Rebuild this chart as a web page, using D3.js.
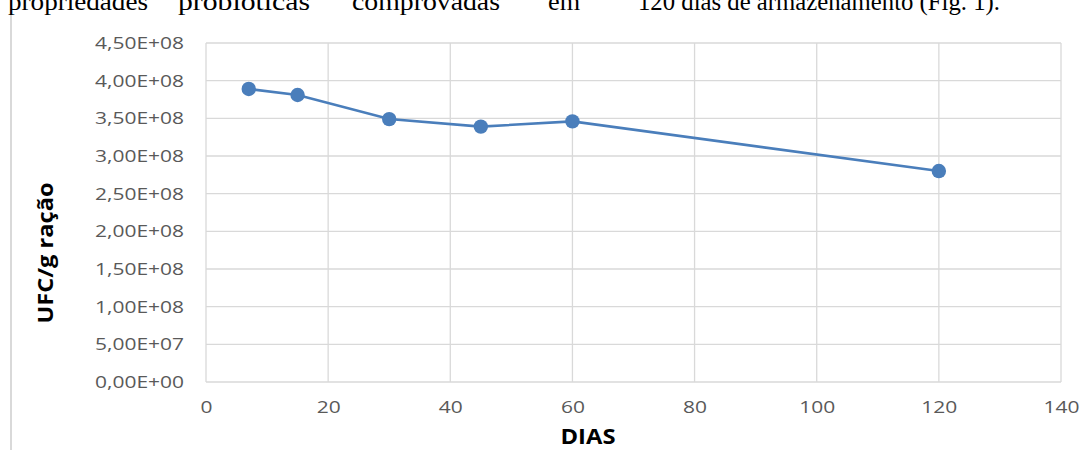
<!DOCTYPE html>
<html>
<head>
<meta charset="utf-8">
<script src="https://cdn.jsdelivr.net/npm/d3@7"></script>
<style>
  html, body { margin: 0; padding: 0; background: #fff; }
  svg { display: block; }
</style>
</head>
<body>
<svg id="chart" width="1081" height="450"></svg>
<script>
const dias = [7, 15, 30, 45, 60, 120];
const ufc = [3.89e8, 3.81e8, 3.49e8, 3.39e8, 3.46e8, 2.80e8];
const xTicks = [0, 20, 40, 60, 80, 100, 120, 140];
const yTicks = [0, 0.5e8, 1.0e8, 1.5e8, 2.0e8, 2.5e8, 3.0e8, 3.5e8, 4.0e8, 4.5e8];
const yTickLabels = ["0,00E+00", "5,00E+07", "1,00E+08", "1,50E+08", "2,00E+08", "2,50E+08", "3,00E+08", "3,50E+08", "4,00E+08", "4,50E+08"];
const xTitle = "DIAS";
const yTitle = "UFC/g ração";
const topText = ["propriedades", "probióticas", "comprovadas", "em", "120 dias de armazenamento (Fig. 1)."];

const svg = d3.select("#chart");
const W = 1081, H = 450;

// Top clipped paragraph text (continuation of the page above the figure)
const topX = [8, 178, 352, 548, 638];
const topLen = [140, 132, 148, 32, 362];
svg.append("g").selectAll("text").data(topText).join("text")
  .attr("x", (d, i) => topX[i])
  .attr("y", 10)
  .attr("font-family", "Liberation Serif, Times New Roman, serif")
  .attr("font-size", 26)
  .attr("textLength", (d, i) => topLen[i])
  .attr("lengthAdjust", "spacingAndGlyphs")
  .attr("fill", "#000")
  .text(d => d);

// left frame line
svg.append("line").attr("x1", 11).attr("x2", 11).attr("y1", 15).attr("y2", H)
  .attr("stroke", "#d9d9d9").attr("stroke-width", 2);

const x = d3.scaleLinear().domain([0, 140]).range([206, 1061]);
const y = d3.scaleLinear().domain([0, 4.5e8]).range([382, 43]);

// gridlines
svg.append("g").selectAll("line.h").data(yTicks).join("line")
  .attr("x1", x(0)).attr("x2", x(140))
  .attr("y1", d => y(d)).attr("y2", d => y(d))
  .attr("stroke", "#d9d9d9").attr("stroke-width", 1.3);
svg.append("g").selectAll("line.v").data(xTicks).join("line")
  .attr("x1", d => x(d)).attr("x2", d => x(d))
  .attr("y1", y(0)).attr("y2", y(4.5e8))
  .attr("stroke", "#d9d9d9").attr("stroke-width", 1.3);

// axes (labels only)
const yAxis = d3.axisLeft(y).tickValues(yTicks)
  .tickFormat((d, i) => yTickLabels[i]).tickSize(0).tickPadding(22);
const gy = svg.append("g").attr("transform", `translate(${x(0)},0)`).call(yAxis);
gy.select(".domain").remove();
gy.selectAll("text").attr("font-family", "Open Sans, sans-serif").attr("font-size", 17)
  .attr("fill", "#595959").attr("textLength", 89).attr("lengthAdjust", "spacingAndGlyphs");

const xAxis = d3.axisBottom(x).tickValues(xTicks).tickSize(0).tickPadding(19);
const gx = svg.append("g").attr("transform", `translate(0,${y(0)})`).call(xAxis);
gx.select(".domain").remove();
gx.selectAll("text").attr("font-family", "Open Sans, sans-serif").attr("font-size", 17)
  .attr("fill", "#595959")
  .attr("textLength", d => String(d).length * 12).attr("lengthAdjust", "spacingAndGlyphs");

// line + markers
const line = d3.line().x((d, i) => x(dias[i])).y(d => y(d));
svg.append("path").datum(ufc).attr("d", line)
  .attr("fill", "none").attr("stroke", "#4a7ebb").attr("stroke-width", 2.6);
svg.append("g").selectAll("circle").data(ufc).join("circle")
  .attr("cx", (d, i) => x(dias[i])).attr("cy", d => y(d)).attr("r", 7.2)
  .attr("fill", "#4a7ebb");

// titles
svg.append("text").attr("x", 588).attr("y", 444).attr("text-anchor", "middle")
  .attr("font-family", "Open Sans, sans-serif").attr("font-weight", "bold").attr("font-size", 21)
  .attr("textLength", 55).attr("lengthAdjust", "spacingAndGlyphs")
  .attr("fill", "#000").text(xTitle);
svg.append("text").attr("transform", "translate(53,253) rotate(-90)").attr("text-anchor", "middle")
  .attr("font-family", "Open Sans, sans-serif").attr("font-weight", "bold").attr("font-size", 21)
  .attr("textLength", 141).attr("lengthAdjust", "spacingAndGlyphs")
  .attr("fill", "#000").text(yTitle);
</script>
</body>
</html>
